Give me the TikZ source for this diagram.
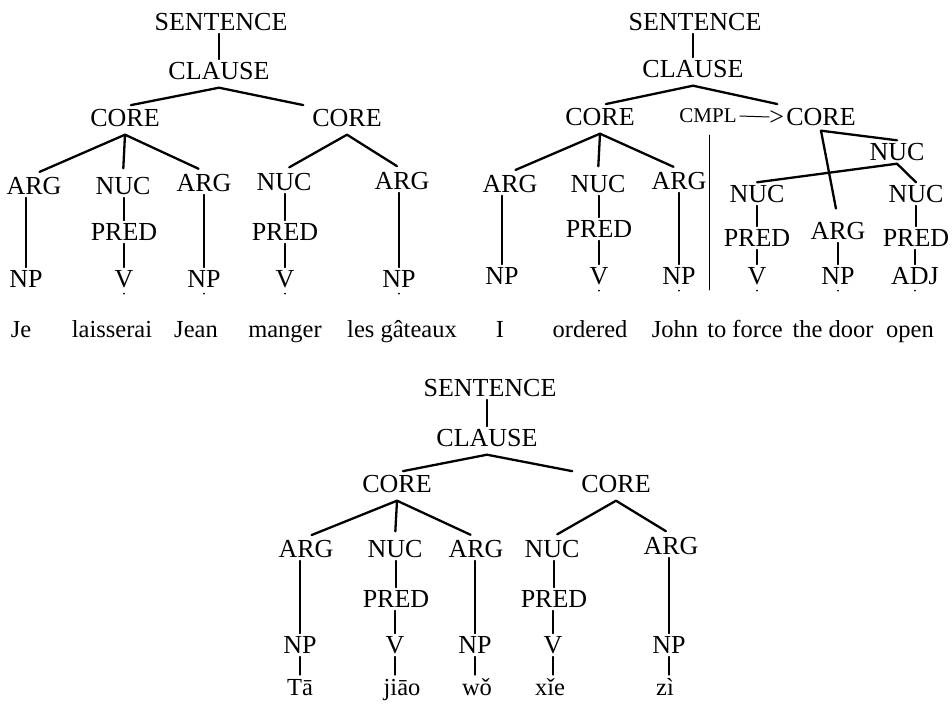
\documentclass[tikz,border=0pt]{standalone}
\usepackage{fontspec}
\setmainfont{Liberation Serif}
\usetikzlibrary{positioning}
\tikzset{
  lab/.style={inner sep=3pt,text height=17pt,text depth=0pt},
  word/.style={inner sep=3pt,anchor=base,font=\fontsize{24.5}{28}\selectfont,text height=17pt,text depth=5pt},
  br/.style={line width=2.3pt,shorten >=6pt},
  vl/.style={line width=1.8pt},
}
\begin{document}
\begin{tikzpicture}[x=1pt,y=-1pt,line join=round,line cap=round,font=\fontsize{26}{30}\selectfont]
\useasboundingbox (0,0) rectangle (952,706);
% French tree
\foreach \n/\t/\x/\y in {s1/SENTENCE/221/22, c1/CLAUSE/219/71, k1a/CORE/125/118, k1b/CORE/347/118,
  a1a/ARG/34/186, n1a/NUC/123/186, a1b/ARG/204/183, n1b/NUC/284/182, a1c/ARG/402/181,
  p1a/PRED/124/232, p1b/PRED/285/232,
  l1a/NP/26/279, l1b/V/124/279, l1c/NP/204/279, l1d/V/285/279, l1e/NP/399/279}
  \node[lab] (\n) at (\x,\y) {\t};
\foreach \n/\t/\x in {w1a/Je/21, w1b/laisserai/112, w1c/Jean/196, w1d/manger/285, w1e/les gâteaux/402}
  \node[word] (\n) at (\x,337) {\t};
% English tree
\foreach \n/\t/\x/\y in {s2/SENTENCE/695/22, c2/CLAUSE/693/69, k2a/CORE/600/117, k2b/CORE/821/117,
  a2a/ARG/510/184, n2a/NUC/598/184, a2b/ARG/679/181, p2a/PRED/599/229,
  l2a/NP/502/276, l2b/V/599/276, l2c/NP/679/276,
  n2c/NUC/897/152, n2d/NUC/757/194, n2e/NUC/916/194, a2c/ARG/838/231,
  p2b/PRED/757/238, p2c/PRED/916/238, l2d/V/757/276, l2e/NP/838/276, l2f/ADJ/915/276}
  \node[lab] (\n) at (\x,\y) {\t};
\node[lab,font=\fontsize{21}{24}\selectfont,text height=14pt] (cm) at (708,116) {CMPL};
\node[lab,inner sep=0pt,left=-1pt of k2b] (gt) {>};
\draw[line width=1pt] (cm.east) -- (gt.west);
\foreach \n/\t/\x in {w2a/I/500, w2b/ordered/590, w2c/John/675, w2d/to force/745, w2e/the door/833, w2f/open/910}
  \node[word] (\n) at (\x,337) {\t};
\coordinate (sepT) at (709,135);
\coordinate (sepB) at (709,290);
\draw[line width=0.9pt] (sepT) -- (sepB);
% Chinese tree
\foreach \n/\t/\x/\y in {s3/SENTENCE/490/388, c3/CLAUSE/487/438, k3a/CORE/397/484, k3b/CORE/616/484,
  a3a/ARG/306/549, n3a/NUC/395/549, a3b/ARG/476/549, n3b/NUC/552/549, a3c/ARG/671/546,
  p3a/PRED/396/599, p3b/PRED/554/599,
  l3a/NP/300/645, l3b/V/395/645, l3c/NP/475/645, l3d/V/553/645, l3e/NP/669/645}
  \node[lab] (\n) at (\x,\y) {\t};
\foreach \n/\t/\x in {w3a/Tā/300, w3b/jiāo/402, w3c/wǒ/477, w3d/xǐe/550, w3e/zì/665}
  \node[word] (\n) at (\x,695) {\t};
% branches
\foreach \a/\b/\c in {c1/k1a/north, c1/k1b/north west, k1a/a1a/north, k1a/n1a/north, k1a/a1b/north,
  k1b/n1b/north, k1b/a1c/north,
  c2/k2a/north, c2/k2b/north west, k2a/a2a/north, k2a/n2a/north, k2a/a2b/north,
  c3/k3a/north, c3/k3b/north west, k3a/a3a/north, k3a/n3a/north, k3a/a3b/north,
  k3b/n3b/north, k3b/a3c/north}
  \draw[br] ([yshift=-5pt]\a.south) -- (\b.\c);
\draw[br,shorten >=0pt] ([yshift=-2pt]k2b.south) -- (n2c.north);
\draw[br,shorten >=11pt] ([yshift=-2pt]k2b.south) -- (a2c.north);
\draw[br,shorten >=0pt] (n2c.south) -- (n2d.north);
\draw[br,shorten >=0pt] (n2c.south) -- (n2e.north);
% single lines
\foreach \a/\b in {s1/c1, a1a/l1a, n1a/p1a, p1a/l1b, a1b/l1c, n1b/p1b, p1b/l1d, a1c/l1e,
  s2/c2, a2a/l2a, n2a/p2a, p2a/l2b, a2b/l2c, n2d/p2b, p2b/l2d, a2c/l2e, n2e/p2c, p2c/l2f,
  s3/c3, a3a/l3a, n3a/p3a, p3a/l3b, a3b/l3c, n3b/p3b, p3b/l3d, a3c/l3e}
  \draw[vl] (\a.south -| \b.north) -- (\b.north);
\foreach \a/\b in {l3a/w3a, l3b/w3b, l3c/w3c, l3d/w3d, l3e/w3e}
  \draw[vl] (\a.south) -- (\a.south |- \b.north);
\foreach \n in {l1b,l1c,l1d,l1e,l2b,l2c,l2d,l2e,l2f}
  \fill ([yshift=-3pt]\n.south) circle (1pt);
\end{tikzpicture}
\end{document}
